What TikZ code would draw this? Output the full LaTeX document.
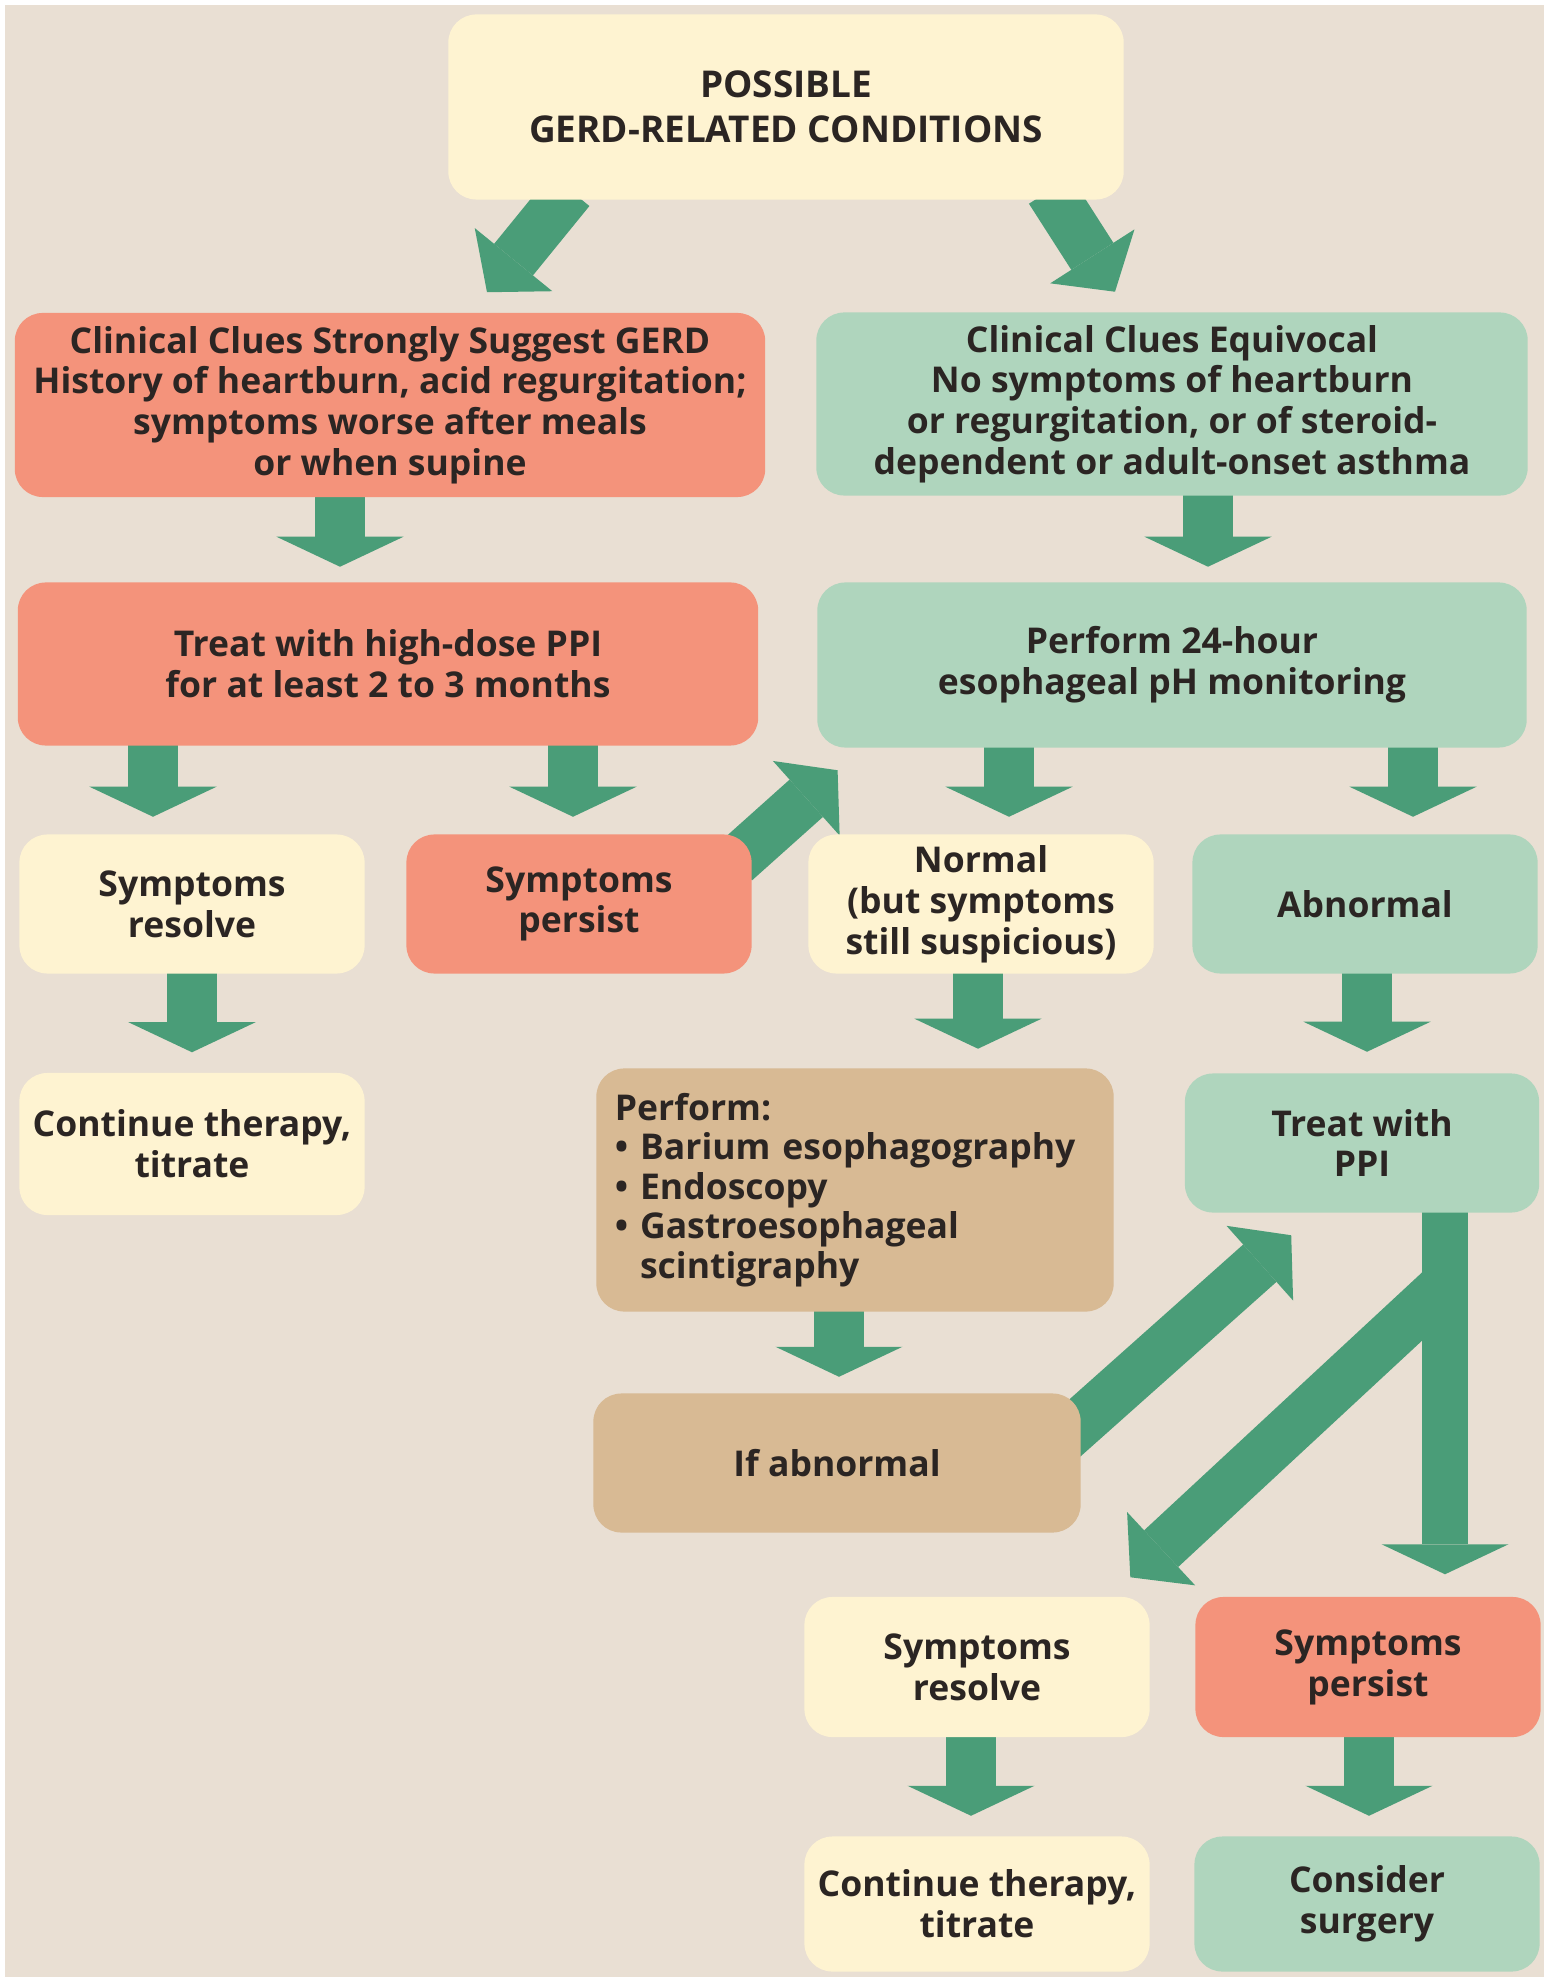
\documentclass[tikz,border=0pt]{standalone}
\usepackage{fontspec}
\setmainfont{Open Sans}
\usepackage{xcolor}
\usetikzlibrary{positioning,calc,arrows.meta}

\definecolor{bgbeige}{HTML}{E9DFD3}
\definecolor{boxyellow}{HTML}{FEF3D1}
\definecolor{boxsalmon}{HTML}{F4937B}
\definecolor{boxgreen}{HTML}{AFD5BD}
\definecolor{boxtan}{HTML}{D8BA94}
\definecolor{arrowgreen}{HTML}{4A9D78}
\definecolor{txtdark}{HTML}{2B2523}

\pgfdeclarelayer{background}
\pgfsetlayers{background,main}

\tikzset{
  box/.style={rounded corners=0.28cm, align=center, inner sep=0pt, text=txtdark,
    font=\bfseries\fontsize{10.1}{11.6}\selectfont},
  ybox/.style={box, fill=boxyellow},
  rbox/.style={box, fill=boxsalmon},
  gbox/.style={box, fill=boxgreen},
  tbox/.style={box, fill=boxtan},
  small/.style={minimum width=3.45cm, minimum height=1.39cm},
  fat/.style={draw=arrowgreen, line width=0.5cm,
    -{Triangle[width=1.27cm, length=0.3cm, line width=0pt]}},
  fatd/.style={draw=arrowgreen, line width=0.5cm,
    -{Triangle[width=1.0cm, length=0.42cm, line width=0pt]}}
}

\begin{document}
\begin{tikzpicture}[x=0.01cm, y=-0.01cm]
    \useasboundingbox (0,0) rectangle (1544,1977);

    % start
    \node [ybox, minimum width=6.75cm, minimum height=1.85cm,
      font=\bfseries\fontsize{10.5}{12.8}\selectfont] (possible) at (786,107)
      {POSSIBLE\\GERD-RELATED CONDITIONS};

    % clinical clues
    \node [rbox, minimum width=7.5cm, minimum height=1.84cm] (clueS) at (390,405)
      {Clinical Clues Strongly Suggest GERD\\History of heartburn, acid regurgitation;\\symptoms worse after meals\\or when supine};
    \node [gbox, minimum width=7.11cm, minimum height=1.83cm] (clueE) at (1172,404)
      {Clinical Clues Equivocal\\No symptoms of heartburn\\or regurgitation, or of steroid-\\dependent or adult-onset asthma};

    % first step
    \node [rbox, minimum width=7.4cm, minimum height=1.63cm] (treat) at (388,664)
      {Treat with high-dose PPI\\for at least 2 to 3 months};
    \node [gbox, minimum width=7.09cm, minimum height=1.65cm] (phmon) at (1172,665)
      {Perform 24-hour\\esophageal pH monitoring};

    % outcomes
    \node [ybox, small] (resolveA) at (192,904) {Symptoms\\resolve};
    \node [rbox, small] (persistA) at (579,904) {Symptoms\\persist};
    \node [ybox, small] (normal) at (981,904) {Normal\\(but symptoms\\still suspicious)};
    \node [gbox, small] (abnormal) at (1365,904) {Abnormal};

    \node [ybox, small, minimum height=1.42cm] (continueA) at (192,1144) {Continue therapy,\\titrate};
    \node [tbox, minimum width=5.17cm, minimum height=2.43cm, align=left, text width=4.8cm,
      font=\bfseries\fontsize{10.1}{11.2}\selectfont] (perform) at (855,1190)
      {Perform:\\\textbullet\ Barium esophagography\\\textbullet\ Endoscopy\\\textbullet\ Gastroesophageal\\\phantom{\textbullet\ }scintigraphy};
    \node [gbox, minimum width=3.54cm, minimum height=1.39cm] (ppi) at (1362,1143) {Treat with\\PPI};

    \node [tbox, minimum width=4.87cm, minimum height=1.39cm] (ifabn) at (837,1463) {If abnormal};

    % after PPI
    \node [ybox, small, minimum height=1.4cm] (resolveB) at (977,1667) {Symptoms\\resolve};
    \node [rbox, small, minimum height=1.4cm] (persistB) at (1368,1667) {Symptoms\\persist};
    \node [ybox, small, minimum height=1.35cm] (continueB) at (977,1904) {Continue therapy,\\titrate};
    \node [gbox, small, minimum height=1.35cm] (surgery) at (1367,1904) {Consider\\surgery};

    \coordinate (fork) at ($(ppi.south)+(83,72)$);

    \begin{pgfonlayer}{background}
    \fill [white] (0,0) rectangle (1544,1977);
    \fill [bgbeige] (5,5) rectangle (1544,1977);

    % arrows
    \draw [fatd] ($(possible.south)+(-216,-10)$) -- ($(clueS.north)+(97,-20)$);
    \draw [fatd] ($(possible.south)+(264,-10)$) -- ($(clueE.north)+(-57,-20)$);
    \draw [fat] ($(clueS.south)+(-50,-5)$) -- ($(treat.north)+(-48,-15)$);
    \draw [fat] ($(clueE.south)+(36,-5)$) -- ($(phmon.north)+(36,-15)$);
    \draw [fat] ($(treat.south)+(-235,-5)$) -- ($(resolveA.north)+(-39,-17)$);
    \draw [fat] ($(treat.south)+(185,-5)$) -- ($(persistA.north)+(-6,-17)$);
    \draw [fat] ($(phmon.south)+(-163,-5)$) -- ($(normal.north)+(28,-17)$);
    \draw [fat] ($(phmon.south)+(241,-5)$) -- ($(abnormal.north)+(48,-17)$);
    \draw [fatd] ($(persistA.north east)+(-17,28)$) -- ($(phmon.south west)+(21,22)$);
    \draw [fat] ($(resolveA.south)+(0,-5)$) -- ($(continueA.north)+(0,-20)$);
    \draw [fat] ($(normal.south)+(-3,-5)$) -- ($(perform.north)+(123,-19)$);
    \draw [fat] ($(abnormal.south)+(2,-5)$) -- ($(ppi.north)+(5,-21)$);
    \draw [fat] ($(perform.south)+(-16,-5)$) -- ($(ifabn.north)+(2,-16)$);
    \draw [fatd] ($(ifabn.east)+(-20,-23)$) -- ($(ppi.south west)+(107,22)$);
    \draw [fat, line width=0.46cm] ($(ppi.south)+(83,-5)$) -- ($(persistB.north)+(77,-22)$);
    \draw [fatd] (fork) -- ($(resolveB.north east)+(-20,-19)$);
    \draw [fat] ($(resolveB.south)+(-6,-5)$) -- ($(continueB.north)+(-6,-20)$);
    \draw [fat] ($(persistB.south)+(1,-5)$) -- ($(surgery.north)+(2,-20)$);
    \end{pgfonlayer}
\end{tikzpicture}
\end{document}
